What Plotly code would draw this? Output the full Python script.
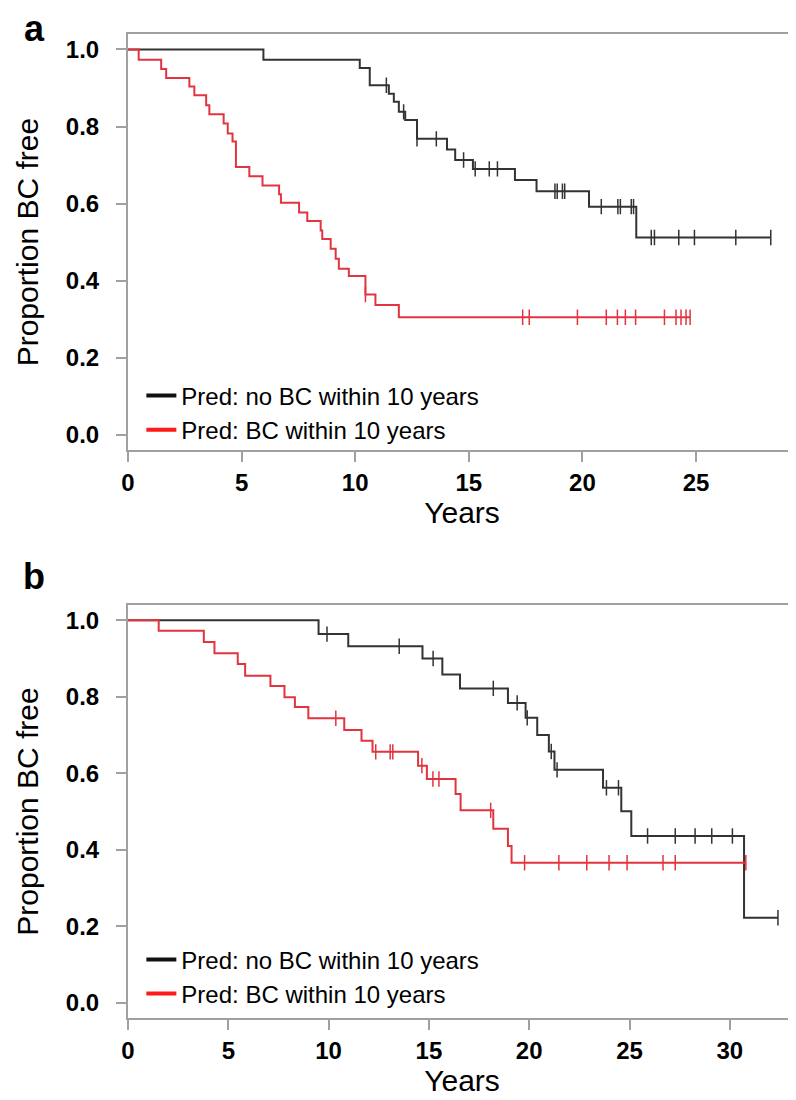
import numpy as np
import plotly.graph_objects as go

# ---------------------------------------------------------------
# Panel a : Kaplan-Meier steps (time in years, proportion BC free)
# ---------------------------------------------------------------
a_no_time = [0, 5.96, 10.2, 10.64, 11.48, 11.7, 11.92, 12.2, 12.72, 14.04, 14.4,
             15.18, 17.03, 17.98, 20.29, 22.37, 28.29]
a_no_surv = [1.0, 0.973, 0.952, 0.907, 0.885, 0.864, 0.838, 0.817, 0.768, 0.740, 0.713,
             0.690, 0.661, 0.632, 0.592, 0.512, 0.512]
a_no_cens = [11.37, 12.13, 12.72, 13.57, 14.77, 15.28, 15.9, 16.26, 18.79, 18.89, 19.12,
             19.22, 20.83, 21.56, 21.67, 22.15, 22.25, 23.03, 23.17, 24.24, 24.93,
             26.75, 28.29]

a_bc_time = [0, 0.47, 1.46, 1.68, 2.7, 2.92, 3.44, 3.58, 4.21, 4.39, 4.6, 4.75, 5.34,
             5.92, 6.65, 6.73, 7.53, 7.89, 8.48, 8.55, 8.92, 9.14, 9.28, 9.72, 10.45,
             10.89, 11.92, 24.74]
a_bc_surv = [1.0, 0.973, 0.949, 0.926, 0.904, 0.881, 0.855, 0.832, 0.808, 0.782, 0.761,
             0.695, 0.671, 0.647, 0.624, 0.602, 0.577, 0.555, 0.530, 0.508, 0.483, 0.457,
             0.431, 0.412, 0.364, 0.337, 0.305, 0.305]
a_bc_cens = [10.45, 17.37, 17.66, 19.78, 21.05, 21.54, 21.89, 22.34, 23.61, 24.12,
             24.34, 24.56, 24.74]

# ---------------------------------------------------------------
# Panel b
# ---------------------------------------------------------------
b_no_time = [0, 9.5, 10.98, 14.68, 15.67, 16.55, 18.94, 19.82, 20.4, 20.98, 21.26,
             23.68, 24.59, 25.09, 30.71, 32.4]
b_no_surv = [1.0, 0.964, 0.932, 0.900, 0.858, 0.822, 0.784, 0.745, 0.700, 0.657, 0.609,
             0.562, 0.501, 0.436, 0.222, 0.222]
b_no_cens = [9.92, 13.52, 15.21, 18.21, 19.4, 19.9, 21.1, 21.39, 23.85, 24.45, 25.9,
             27.28, 28.27, 29.1, 30.13, 32.4]

b_bc_time = [0, 1.53, 3.78, 4.31, 5.47, 5.84, 7.1, 7.8, 8.32, 8.99, 10.78, 11.64, 12.19,
             14.46, 14.9, 16.33, 16.58, 18.21, 18.94, 19.12, 30.8]
b_bc_surv = [1.0, 0.973, 0.943, 0.914, 0.886, 0.855, 0.828, 0.799, 0.773, 0.744, 0.713,
             0.685, 0.656, 0.620, 0.585, 0.546, 0.503, 0.455, 0.410, 0.366, 0.366]
b_bc_cens = [10.36, 12.35, 13.07, 13.2, 14.65, 15.2, 15.5, 18.08, 19.77, 21.48, 22.87,
             23.98, 24.88, 26.67, 27.28, 30.8]

y_ticks = [0.0, 0.2, 0.4, 0.6, 0.8, 1.0]
legend_names = ["Pred: no BC within 10 years", "Pred: BC within 10 years"]

BLACK = "#333333"
RED = "#e2343e"
AXIS_GREY = "#a0a0a0"
FONT = "Liberation Sans, Arial"


def surv_at(times, surv, t):
    idx = np.searchsorted(times, t, side="right") - 1
    return [surv[i] for i in idx]


fig = go.Figure()

panels = [
    ("x", "y", a_no_time, a_no_surv, a_no_cens, a_bc_time, a_bc_surv, a_bc_cens, "legend"),
    ("x2", "y2", b_no_time, b_no_surv, b_no_cens, b_bc_time, b_bc_surv, b_bc_cens, "legend2"),
]

for xa, ya, nt, ns, nc, bt, bs, bc, leg in panels:

    for times, surv, cens, color in [(nt, ns, nc, BLACK), (bt, bs, bc, RED)]:

        # step curve
        fig.add_trace(
            go.Scatter(
                x=times,
                y=surv,
                mode="lines",
                line=dict(color=color, width=2, shape="hv"),
                xaxis=xa,
                yaxis=ya,
                showlegend=False,
                hoverinfo="skip"
            )
        )

        # censor ticks
        fig.add_trace(
            go.Scatter(
                x=cens,
                y=surv_at(np.array(times), surv, np.array(cens)),
                mode="markers",
                marker=dict(
                    symbol="line-ns",
                    size=11,
                    line=dict(color=color, width=1.5)
                ),
                xaxis=xa,
                yaxis=ya,
                showlegend=False,
                hoverinfo="skip"
            )
        )

    # legend entries
    for name, color in zip(legend_names, ["#111111", "#ff1a1a"]):

        fig.add_trace(
            go.Scatter(
                x=[None],
                y=[None],
                mode="lines",
                name=name,
                line=dict(color=color, width=4),
                xaxis=xa,
                yaxis=ya,
                legend=leg
            )
        )

axis_common = dict(
    showline=True,
    linecolor=AXIS_GREY,
    linewidth=2,
    mirror=True,
    ticks="outside",
    ticklen=10,
    tickwidth=1.5,
    tickcolor=AXIS_GREY,
    showgrid=False,
    zeroline=False,
    tickfont=dict(family=FONT, size=24, color="black", weight="bold"),
)

title_font = dict(family=FONT, size=30, color="black")
legend_font = dict(family=FONT, size=24, color="black")

fig.update_layout(
    width=796,
    height=1100,
    paper_bgcolor="white",
    plot_bgcolor="white",
    margin=dict(l=120, r=6, t=26, b=90),
    xaxis=dict(
        axis_common,
        domain=[0, 1],
        anchor="y",
        range=[0, 29.4],
        dtick=5,
        title=dict(text="Years", font=title_font, standoff=2)
    ),
    yaxis=dict(
        axis_common,
        domain=[0.577, 1.0],
        anchor="x",
        range=[-0.04, 1.04],
        tickvals=y_ticks,
        tickformat=".1f",
        ticklabelstandoff=12,
        title=dict(text="Proportion BC free", font=title_font, standoff=18)
    ),
    xaxis2=dict(
        axis_common,
        domain=[0, 1],
        anchor="y2",
        range=[0, 33.3],
        dtick=5,
        title=dict(text="Years", font=title_font, standoff=0)
    ),
    yaxis2=dict(
        axis_common,
        domain=[0, 0.4197],
        anchor="x2",
        range=[-0.04, 1.04],
        tickvals=y_ticks,
        tickformat=".1f",
        ticklabelstandoff=12,
        title=dict(text="Proportion BC free", font=title_font, standoff=18)
    ),
    legend=dict(
        x=0.02,
        y=0.655,
        xanchor="left",
        yanchor="top",
        bgcolor="rgba(0,0,0,0)",
        font=legend_font,
        tracegroupgap=0
    ),
    legend2=dict(
        x=0.02,
        y=0.082,
        xanchor="left",
        yanchor="top",
        bgcolor="rgba(0,0,0,0)",
        font=legend_font,
        tracegroupgap=0
    ),
    annotations=[
        dict(text="<b>a</b>", x=-0.14, y=1.006, xref="paper", yref="paper",
             xanchor="center", yanchor="middle", showarrow=False,
             font=dict(family=FONT, size=36, color="black")),
        dict(text="<b>b</b>", x=-0.14, y=0.449, xref="paper", yref="paper",
             xanchor="center", yanchor="middle", showarrow=False,
             font=dict(family=FONT, size=36, color="black")),
    ]
)

fig.write_html("out.html")
